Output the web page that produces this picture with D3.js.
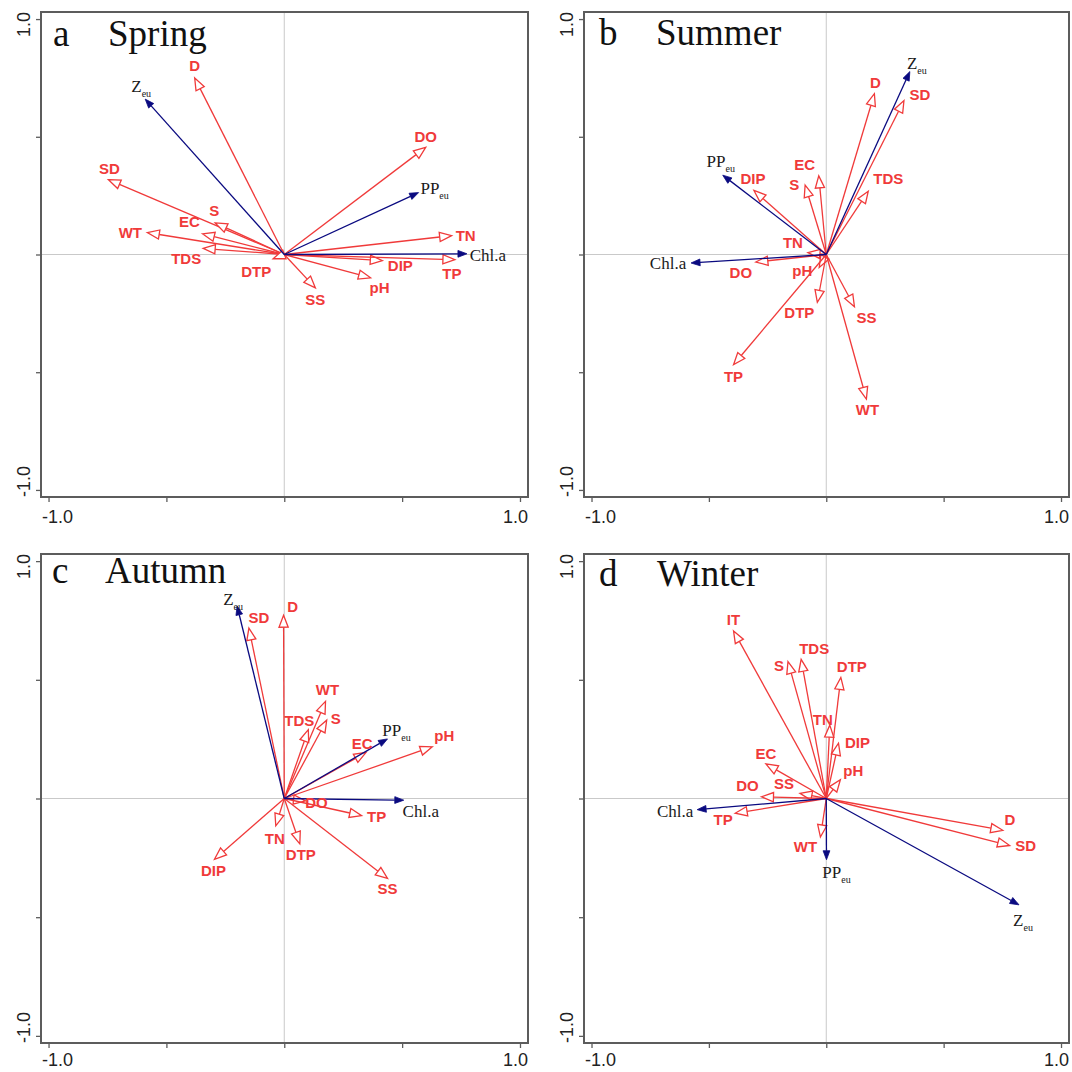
<!DOCTYPE html>
<html>
<head>
<meta charset="utf-8">
<script src="https://cdn.jsdelivr.net/npm/d3@7"></script>
<style>
  html, body { margin: 0; padding: 0; background: #fff; }
  svg { display: block; }
</style>
</head>
<body>
<div id="chart"></div>
<script>
// RDA biplot loadings (axis 1, axis 2)
const springVars = ['D', 'Zeu', 'DO', 'PPeu', 'SD', 'S', 'EC', 'WT', 'TDS', 'DTP', 'SS', 'pH', 'DIP', 'TP', 'TN', 'Chl.a'];
const springAx1  = [-0.38, -0.59, 0.60, 0.57, -0.746, -0.293, -0.347, -0.581, -0.344, -0.047, 0.132, 0.366, 0.416, 0.724, 0.710, 0.775];
const springAx2  = [0.75, 0.66, 0.455, 0.263, 0.318, 0.134, 0.088, 0.093, 0.026, -0.018, -0.142, -0.099, -0.026, -0.022, 0.080, 0.003];

const summerVars = ['Zeu', 'D', 'SD', 'TDS', 'EC', 'S', 'DIP', 'PPeu', 'TN', 'Chl.a', 'DO', 'pH', 'DTP', 'SS', 'TP', 'WT'];
const summerAx1  = [0.356, 0.205, 0.331, 0.179, -0.032, -0.090, -0.308, -0.441, -0.078, -0.576, -0.300, -0.030, -0.038, 0.120, -0.395, 0.171];
const summerAx2  = [0.777, 0.683, 0.654, 0.269, 0.334, 0.295, 0.272, 0.337, 0.008, -0.036, -0.032, -0.055, -0.203, -0.222, -0.468, -0.614];

const autumnVars = ['Zeu', 'SD', 'D', 'WT', 'S', 'TDS', 'EC', 'PPeu', 'pH', 'Chl.a', 'DO', 'TP', 'TN', 'DTP', 'SS', 'DIP'];
const autumnAx1  = [-0.200, -0.150, -0.003, 0.175, 0.180, 0.102, 0.347, 0.438, 0.628, 0.507, 0.09, 0.328, -0.036, 0.066, 0.438, -0.296];
const autumnAx2  = [0.811, 0.718, 0.772, 0.409, 0.330, 0.290, 0.194, 0.251, 0.218, -0.007, -0.01, -0.072, -0.115, -0.191, -0.337, -0.256];

const winterVars = ['IT', 'TDS', 'S', 'DTP', 'TN', 'DIP', 'pH', 'EC', 'SS', 'DO', 'Chl.a', 'TP', 'WT', 'PPeu', 'D', 'SD', 'Zeu'];
const winterAx1  = [-0.395, -0.107, -0.163, 0.062, 0.015, 0.052, 0.060, -0.257, -0.112, -0.276, -0.550, -0.388, -0.025, 0.001, 0.752, 0.781, 0.821];
const winterAx2  = [0.706, 0.586, 0.577, 0.510, 0.309, 0.233, 0.079, 0.146, 0.022, 0.007, -0.047, -0.062, -0.162, -0.258, -0.134, -0.198, -0.448];

// response variables get the blue filled arrows
const responseVars = ['Zeu', 'PPeu', 'Chl.a'];

const tickValues = [-1, -0.5, 0, 0.5, 1];
const tickLabels = ['-1.0', '1.0'];

// label nudges (px, label centre relative to arrow tip)
const labelNudge = {
    a: { D: [0, -12], Zeu: [-4, -13], DO: [0, -11], PPeu: [16, -5], SD: [1, -11], S: [-1, -12], EC: [-13, -12],
         WT: [-17, 0], TDS: [-17, 10], DTP: [-17, 13], SS: [0, 12], pH: [9, 10], DIP: [18, 5], TP: [-3, 14],
         TN: [14, 0], 'Chl.a': [21, 1] },
    b: { Zeu: [7, -9], D: [1, -11], SD: [16, -6], TDS: [20, -12], EC: [-14, -11], S: [-11, 0], DIP: [-1, -12],
         PPeu: [-2, -14], TN: [-15, -10], 'Chl.a': [-23, 0], DO: [-15, 11], pH: [-17, 3], DTP: [-18, 10],
         SS: [12, 11], TP: [0, 12], WT: [1, 11] },
    c: { Zeu: [-4, -7], SD: [10, -10], D: [9, -8], WT: [2, -12], S: [9, -1], TDS: [-9, -9], EC: [-4, -9],
         PPeu: [9, -9], pH: [12, -11], 'Chl.a': [17, 11], DO: [11, 2], TP: [15, 1], TN: [-1, 13], DTP: [1, 11],
         SS: [0, 10], DIP: [-1, 11] },
    d: { IT: [0, -11], TDS: [13, -11], S: [-9, 4], DTP: [11, -11], TN: [-7, -5], DIP: [19, 0], pH: [13, -9],
         EC: [0, -10], SS: [-16, -10], DO: [-14, -11], 'Chl.a': [-22, 1], TP: [-12, 7], WT: [-15, 10],
         PPeu: [10, 12], D: [7, -11], SD: [16, 0], Zeu: [4, 15] }
};

const panels = [
    { key: 'a', season: 'Spring', vars: springVars, ax1: springAx1, ax2: springAx2,
      frame: { left: 41, top: 12, right: 528, bottom: 497 }, letterX: 12, seasonX: 67, titleY: 34, labelGap: 26 },
    { key: 'b', season: 'Summer', vars: summerVars, ax1: summerAx1, ax2: summerAx2,
      frame: { left: 584, top: 12, right: 1069, bottom: 497 }, letterX: 15, seasonX: 72, titleY: 33, labelGap: 26 },
    { key: 'c', season: 'Autumn', vars: autumnVars, ax1: autumnAx1, ax2: autumnAx2,
      frame: { left: 41, top: 554, right: 528, bottom: 1043 }, letterX: 11, seasonX: 64, titleY: 29, labelGap: 23 },
    { key: 'd', season: 'Winter', vars: winterVars, ax1: winterAx1, ax2: winterAx2,
      frame: { left: 584, top: 554, right: 1069, bottom: 1043 }, letterX: 15, seasonX: 73, titleY: 32, labelGap: 23 }
];

const RED = '#f03a3a';
const BLUE = '#0a0a80';
const FRAME = '#5c5c5c';

const svg = d3.select('#chart')
    .append('svg')
    .attr('width', 1072)
    .attr('height', 1072);

panels.forEach(p => drawPanel(p));

function drawPanel(p) {
    const f = p.frame;
    const x = d3.scaleLinear().domain([-1.032, 1.034]).range([f.left, f.right]);
    const y = d3.scaleLinear().domain([-1.03, 1.03]).range([f.bottom, f.top]);
    const g = svg.append('g').attr('class', 'panel-' + p.key);

    // zero lines
    g.append('line')
        .attr('x1', f.left).attr('x2', f.right).attr('y1', y(0)).attr('y2', y(0))
        .attr('stroke', '#c9c9c9').attr('stroke-width', 1);
    g.append('line')
        .attr('x1', x(0)).attr('x2', x(0)).attr('y1', f.top).attr('y2', f.bottom)
        .attr('stroke', '#c9c9c9').attr('stroke-width', 1);

    // ticks (outward, bottom + left)
    const xAxis = g.append('g')
        .attr('transform', `translate(0, ${f.bottom})`)
        .call(d3.axisBottom(x).tickValues(tickValues).tickSize(5).tickFormat(''));
    const yAxis = g.append('g')
        .attr('transform', `translate(${f.left}, 0)`)
        .call(d3.axisLeft(y).tickValues(tickValues).tickSize(5).tickFormat(''));
    [xAxis, yAxis].forEach(a => {
        a.select('.domain').remove();
        a.selectAll('line').attr('stroke', FRAME).attr('stroke-width', 1.3);
    });

    // tick labels, flush with the frame edges
    const tickFont = { family: "'Liberation Sans', Arial, sans-serif", size: '18px' };
    g.append('text')
        .attr('x', f.left + 1).attr('y', f.bottom + p.labelGap)
        .attr('text-anchor', 'start')
        .style('font-family', tickFont.family).style('font-size', tickFont.size).style('fill', '#222')
        .text(tickLabels[0]);
    g.append('text')
        .attr('x', f.right).attr('y', f.bottom + p.labelGap)
        .attr('text-anchor', 'end')
        .style('font-family', tickFont.family).style('font-size', tickFont.size).style('fill', '#222')
        .text(tickLabels[1]);
    g.append('text')
        .attr('transform', `translate(${f.left - 11}, ${f.top}) rotate(-90)`)
        .attr('text-anchor', 'end')
        .style('font-family', tickFont.family).style('font-size', tickFont.size).style('fill', '#222')
        .text(tickLabels[1]);
    g.append('text')
        .attr('transform', `translate(${f.left - 11}, ${f.bottom}) rotate(-90)`)
        .attr('text-anchor', 'start')
        .style('font-family', tickFont.family).style('font-size', tickFont.size).style('fill', '#222')
        .text(tickLabels[0]);

    // frame
    g.append('rect')
        .attr('x', f.left).attr('y', f.top)
        .attr('width', f.right - f.left).attr('height', f.bottom - f.top)
        .attr('fill', 'none').attr('stroke', FRAME).attr('stroke-width', 2);

    // title
    const title = g.append('text')
        .attr('y', f.top + p.titleY)
        .style('font-family', "'Liberation Serif', 'Times New Roman', serif")
        .style('font-size', '37px')
        .style('fill', '#111');
    title.append('tspan').attr('x', f.left + p.letterX).text(p.key);
    title.append('tspan').attr('x', f.left + p.seasonX).text(p.season);

    const rows = p.vars.map((v, i) => ({ name: v, a1: p.ax1[i], a2: p.ax2[i], resp: responseVars.includes(v) }));
    const cx = x(0), cy = y(0);

    // arrows: explanatory (red, open heads) first, then responses (blue, filled)
    const drawArrow = (d) => {
        const tx = x(d.a1), ty = y(d.a2);
        const dx = tx - cx, dy = ty - cy;
        const len = Math.hypot(dx, dy) || 1;
        const ux = dx / len, uy = dy / len;
        const headLen = d.resp ? 9 : 12;
        const halfW = d.resp ? 3.4 : 4.6;
        const bx = tx - ux * headLen, by = ty - uy * headLen;
        const col = d.resp ? BLUE : RED;
        g.append('line')
            .attr('x1', cx).attr('y1', cy).attr('x2', bx).attr('y2', by)
            .attr('stroke', col).attr('stroke-width', 1.3);
        const pts = [[tx, ty], [bx - uy * halfW, by + ux * halfW], [bx + uy * halfW, by - ux * halfW]];
        g.append('path')
            .attr('d', d3.line()(pts) + 'Z')
            .attr('fill', d.resp ? BLUE : '#fff')
            .attr('stroke', col).attr('stroke-width', d.resp ? 0.8 : 1.3)
            .attr('stroke-linejoin', 'miter');
    };
    rows.filter(d => !d.resp).forEach(drawArrow);
    rows.filter(d => d.resp).forEach(drawArrow);

    // labels
    rows.forEach(d => {
        const nudge = labelNudge[p.key][d.name] || [0, -12];
        const lx = x(d.a1) + nudge[0], ly = y(d.a2) + nudge[1];
        const t = g.append('text')
            .attr('x', lx).attr('y', ly)
            .attr('dy', '0.35em')
            .attr('text-anchor', 'middle');
        if (d.resp) {
            t.style('font-family', "'Liberation Serif', 'Times New Roman', serif")
                .style('font-size', '17px').style('fill', '#1a1a1a');
            if (d.name === 'Zeu' || d.name === 'PPeu') {
                t.append('tspan').text(d.name.slice(0, -2));
                t.append('tspan').attr('dy', '5').style('font-size', '10px').text('eu');
            } else {
                t.text(d.name);
            }
        } else {
            t.style('font-family', "'Liberation Sans', Arial, sans-serif")
                .style('font-size', '15px').style('font-weight', 'bold').style('fill', RED)
                .text(d.name);
        }
    });
}
</script>
</body>
</html>
